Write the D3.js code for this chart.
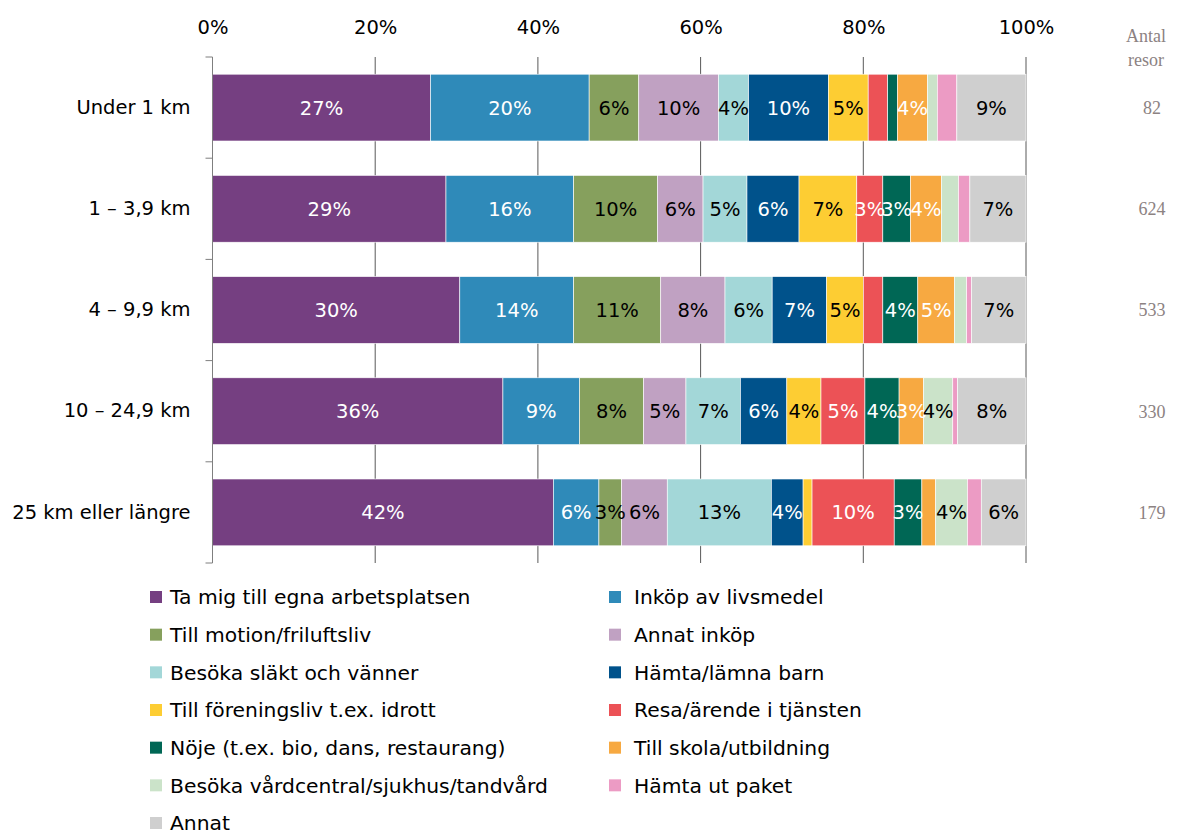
<!DOCTYPE html>
<html lang="sv">
<head>
<meta charset="utf-8">
<script src="https://cdn.jsdelivr.net/npm/d3@7"></script>
<style>
  html, body { margin: 0; padding: 0; background: #ffffff; }
  svg { display: block; }
</style>
</head>
<body>
<svg id="chart" width="1179" height="832"></svg>
<script>
// Resor fördelade på ärende, per reslängd (andel i procent)
const distances = ["Under 1 km", "1 – 3,9 km", "4 – 9,9 km", "10 – 24,9 km", "25 km eller längre"];
const tripCounts = [82, 624, 533, 330, 179];

const purposes = [
  "Ta mig till egna arbetsplatsen",
  "Inköp av livsmedel",
  "Till motion/friluftsliv",
  "Annat inköp",
  "Besöka släkt och vänner",
  "Hämta/lämna barn",
  "Till föreningsliv t.ex. idrott",
  "Resa/ärende i tjänsten",
  "Nöje (t.ex. bio, dans, restaurang)",
  "Till skola/utbildning",
  "Besöka vårdcentral/sjukhus/tandvård",
  "Hämta ut paket",
  "Annat"
];

// One array per distance class, in the order of purposes
const shareUnder1 = [26.8, 19.5, 6.1, 9.8, 3.7, 9.8, 4.9, 2.4, 1.2, 3.7, 1.2, 2.4, 8.5];
const share1to4   = [28.7, 15.7, 10.3, 5.6, 5.4, 6.4, 7.1, 3.2, 3.4, 3.8, 2.1, 1.4, 6.9];
const share4to10  = [30.4, 14.0, 10.7, 7.9, 5.8, 6.7, 4.5, 2.4, 4.3, 4.5, 1.5, 0.6, 6.7];
const share10to25 = [35.7, 9.4, 7.9, 5.2, 6.7, 5.7, 4.2, 5.4, 4.2, 3.0, 3.6, 0.6, 8.4];
const share25plus = [41.9, 5.6, 2.8, 5.6, 12.8, 3.9, 1.1, 10.1, 3.4, 1.7, 3.9, 1.7, 5.5];
const shares = [shareUnder1, share1to4, share4to10, share10to25, share25plus];

const xTicks = [0, 20, 40, 60, 80, 100];

const colors = ["#753f81", "#2f8ab9", "#86a05d", "#c0a1c2", "#a3d7d8", "#00528b",
                "#fdcd33", "#ec5256", "#006755", "#f7a941", "#cbe3c9", "#ec9bc4", "#cfcfcf"];
const whiteLabel = [true, true, false, false, false, true, false, true, true, true, false, false, false];

const sans = "'DejaVu Sans', Verdana, sans-serif";
const serif = "'Liberation Serif', 'Times New Roman', serif";
const fontSize = 19.5;
const legendFontSize = 20.3;

const svg = d3.select("#chart");
const x = d3.scaleLinear().domain([0, 100]).range([212.5, 1026]);
const y = d3.scaleBand().domain(distances).range([57, 563]).paddingInner(0.34).paddingOuter(0.17);
const color = d3.scaleOrdinal().domain(purposes).range(colors);

// vertical gridlines
svg.append("g")
  .selectAll("line")
  .data(xTicks.filter(t => t > 0))
  .join("line")
  .attr("x1", d => x(d)).attr("x2", d => x(d))
  .attr("y1", 57).attr("y2", 563)
  .attr("stroke", "#595959").attr("stroke-width", 1);

// top axis labels
const xAxis = d3.axisTop(x).tickValues(xTicks).tickFormat(d => d + "%").tickSize(0).tickPadding(0);
const gx = svg.append("g").attr("transform", "translate(0,34)").call(xAxis);
gx.select(".domain").remove();
gx.selectAll("text")
  .style("font-family", sans)
  .style("font-size", fontSize + "px")
  .attr("fill", "#000");

// stacked bars
const stackRows = distances.map((dist, i) => {
  let acc = 0;
  return shares[i].map((v, j) => {
    const seg = { dist, purpose: purposes[j], idx: j, x0: acc, x1: acc + v, v };
    acc += v;
    return seg;
  });
});

const rows = svg.append("g").selectAll("g")
  .data(stackRows)
  .join("g");

rows.selectAll("rect")
  .data(d => d)
  .join("rect")
  .attr("x", d => x(d.x0))
  .attr("y", d => y(d.dist))
  .attr("width", d => x(d.x1) - x(d.x0))
  .attr("height", y.bandwidth())
  .attr("fill", d => color(d.purpose))
  .attr("stroke", "#ffffff")
  .attr("stroke-width", 0.6);

rows.selectAll("text")
  .data(d => d.filter(s => Math.round(s.v) >= 3))
  .join("text")
  .attr("x", d => x((d.x0 + d.x1) / 2))
  .attr("y", d => y(d.dist) + y.bandwidth() / 2)
  .attr("dy", "0.36em")
  .attr("text-anchor", "middle")
  .style("font-family", sans)
  .style("font-size", fontSize + "px")
  .attr("fill", d => whiteLabel[d.idx] ? "#ffffff" : "#000000")
  .text(d => Math.round(d.v) + "%");

// left axis with category labels
const yAxis = d3.axisLeft(y).tickSize(0).tickPadding(22);
const gy = svg.append("g").attr("transform", "translate(212.5,0)").call(yAxis);
gy.select(".domain").attr("stroke", "#7f7f7f").attr("d", "M0,57V563");
gy.selectAll("text")
  .style("font-family", sans)
  .style("font-size", fontSize + "px")
  .attr("fill", "#000");

// band boundary tick marks
const boundaries = distances.map(d => y(d) - y.step() * y.paddingInner() / 2).concat([563]);
boundaries[0] = 57;
svg.append("g").selectAll("line")
  .data(boundaries)
  .join("line")
  .attr("x1", 205.5).attr("x2", 212.5)
  .attr("y1", d => d).attr("y2", d => d)
  .attr("stroke", "#7f7f7f").attr("stroke-width", 1);

// trip counts column
const countColor = "#8c8282";
const countHead = svg.append("g")
  .style("font-family", serif).style("font-size", "18px").attr("fill", countColor)
  .attr("text-anchor", "middle");
countHead.append("text").attr("x", 1146).attr("y", 42).text("Antal");
countHead.append("text").attr("x", 1146).attr("y", 66).text("resor");
countHead.selectAll("text.count")
  .data(distances)
  .join("text")
  .attr("class", "count")
  .attr("x", 1152)
  .attr("y", d => y(d) + y.bandwidth() / 2)
  .attr("dy", "0.36em")
  .text((d, i) => tripCounts[i]);

// legend, two columns
const legendRowY = d3.scalePoint().domain(d3.range(7)).range([597, 823]);
const legend = svg.append("g").selectAll("g")
  .data(purposes)
  .join("g")
  .attr("transform", (d, i) => `translate(${i % 2 === 0 ? 150 : 609},${legendRowY(Math.floor(i / 2))})`);
legend.append("rect")
  .attr("x", 0).attr("y", -6).attr("width", 12).attr("height", 12)
  .attr("fill", d => color(d));
legend.append("text")
  .attr("x", (d, i) => i % 2 === 0 ? 20 : 25)
  .attr("y", 0).attr("dy", "0.36em")
  .style("font-family", sans)
  .style("font-size", legendFontSize + "px")
  .attr("fill", "#000")
  .text(d => d);
</script>
</body>
</html>
